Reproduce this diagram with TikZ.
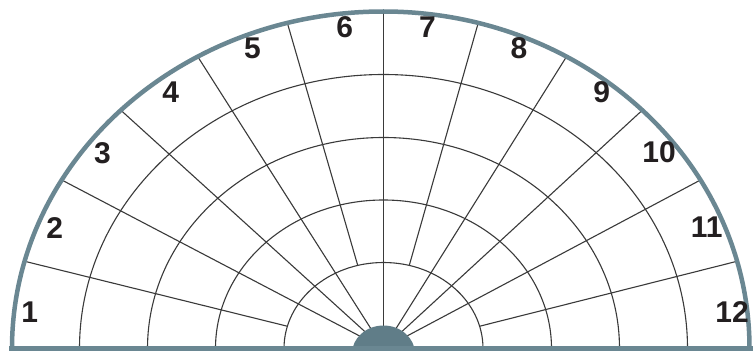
\documentclass[tikz,border=0pt]{standalone}
\usepackage{fontspec}
\setmainfont{Liberation Sans}
\definecolor{rim}{HTML}{6A8792}
\definecolor{hub}{HTML}{607D88}
\definecolor{gridc}{HTML}{3A3A3A}
\definecolor{ink}{HTML}{231F20}
\tikzset{
  gridline/.style={draw=gridc, line width=1.1pt},
  rimline/.style={draw=rim, line width=4.5pt},
  numlabel/.style={text=ink, font=\fontsize{30}{30}\selectfont\bfseries, inner sep=0pt, text depth=0pt, anchor=center}
}
\begin{document}
\begin{tikzpicture}[x=1pt,y=1pt]
\useasboundingbox (0,0) rectangle (755,354);
\fill[white] (0,0) rectangle (755,354);
\coordinate (c) at (383.5,5.5);
% rings
\foreach \rx/\ry in {99.5/86, 168/148.5, 236/211, 304/274}
  \draw[gridline] ({383.5-\rx},5.5) arc[start angle=180, end angle=0, x radius=\rx, y radius=\ry];
% spokes to the hub
\foreach \a in {30,45,60,90,120,135,150}{
  \pgfmathsetmacro\rxo{ifthenelse(\a>90,371.5,366)}
  \draw[gridline] (c) -- ({383.5+\rxo*cos(\a)},{5.5+337*sin(\a)});
}
% spokes from the inner ring
\foreach \a in {15,75,105,165}{
  \pgfmathsetmacro\rxo{ifthenelse(\a>90,371.5,366)}
  \draw[gridline] ({383.5+99.5*cos(\a)},{5.5+86*sin(\a)}) -- ({383.5+\rxo*cos(\a)},{5.5+337*sin(\a)});
}
% hub
\begin{scope}
  \clip (0,5.5) rectangle (755,354);
  \fill[hub] (383.5,0) ellipse [x radius=31.6, y radius=28.5];
\end{scope}
% outer rim and base
\draw[rimline] (12,5.5) arc[start angle=180, end angle=90, x radius=371.5, y radius=337]
  arc[start angle=90, end angle=0, x radius=366, y radius=337];
\draw[draw=rim, line width=5pt] (9,5.8) -- (753,5.8);
% labels
\node[numlabel] (l1)  at (29.7, 41.5)  {1};
\node[numlabel] (l2)  at (54.7, 125.7) {2};
\node[numlabel] (l3)  at (102.5,200.7) {3};
\node[numlabel] (l4)  at (170.8,261.5) {4};
\node[numlabel] (l5)  at (252.5,305.7) {5};
\node[numlabel] (l6)  at (344.7,327.3) {6};
\node[numlabel] (l7)  at (427.5,327.3) {7};
\node[numlabel] (l8)  at (519,305.7)   {8};
\node[numlabel] (l9)  at (601.7,262.3) {9};
\node[numlabel] (l10) at (659,201.5)   {10};
\node[numlabel] (l11) at (706.7,126.5) {11};
\node[numlabel] (l12) at (732,42.3)    {12};
\end{tikzpicture}
\end{document}
